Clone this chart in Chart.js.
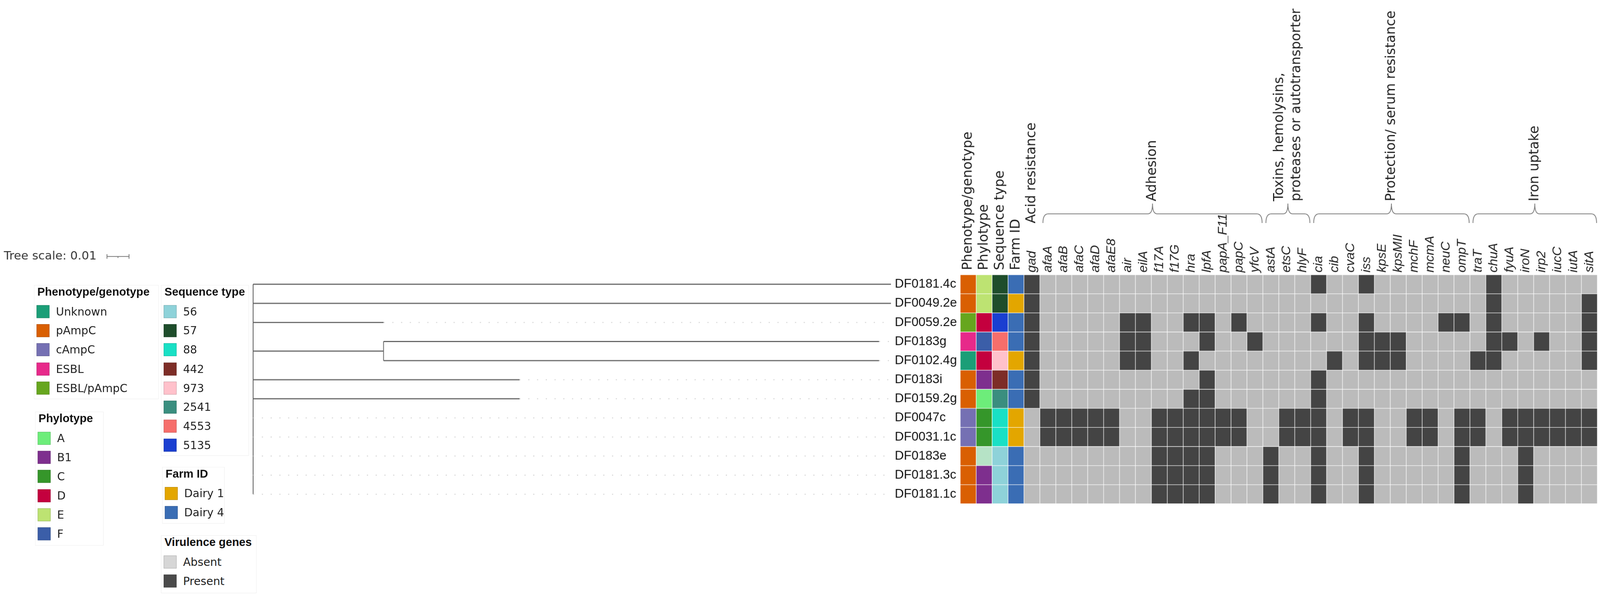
<!DOCTYPE html>
<html>
<head>
<meta charset="utf-8">
<title>Virulence gene profiles</title>
<script src="https://cdn.jsdelivr.net/npm/chart.js@4.4.1/dist/chart.umd.min.js"></script>
<style>
  html, body { margin: 0; padding: 0; background: #fff; overflow: hidden; }
  #page { position: relative; width: 4204px; height: 1562px; overflow: hidden; background: #fff; transform-origin: 0 0; }
  #page canvas { position: absolute; }
  .lg { position: absolute; border: 1px solid #ececec; box-sizing: border-box; }
  .lg .ttl { position: absolute; font: bold 30px "Liberation Sans", Arial, sans-serif; color: #111; line-height: 34px; white-space: nowrap; }
  .lg .it { position: absolute; font: 29px "DejaVu Sans", sans-serif; color: #222; line-height: 34px; white-space: nowrap; }
  .lg .sw { position: absolute; width: 34px; height: 34px; box-sizing: border-box; border: 1px solid rgba(0,0,0,.22); }
</style>
</head>
<body>
<div id="page">
  <canvas id="tree" width="2525" height="750" style="left:0;top:600px;width:2525px;height:750px"></canvas>
  <canvas id="heat" width="1704" height="1350" style="left:2500px;top:0;width:1704px;height:1350px"></canvas>
</div>
<script>
// ---- data ----
const samples = ['DF0181.4c', 'DF0049.2e', 'DF0059.2e', 'DF0183g', 'DF0102.4g', 'DF0183i',
  'DF0159.2g', 'DF0047c', 'DF0031.1c', 'DF0183e', 'DF0181.3c', 'DF0181.1c'];

// tree: distance of each tip from the root, one inner clade (DF0183g + DF0102.4g)
const tipDist = [0.289, 0.289, 0.0591, 0.2836, 0.2836, 0.1207, 0.1207, 0, 0, 0, 0, 0];
const cladeDist = 0.0591;
const cladeMembers = [3, 4];
const treeMax = 0.289;
const treeScale = 0.01;

const phenotype = ['pAmpC', 'pAmpC', 'ESBL/pAmpC', 'ESBL', 'Unknown', 'pAmpC', 'pAmpC', 'cAmpC', 'cAmpC', 'pAmpC', 'pAmpC', 'pAmpC'];
const phylotype = ['E', 'E', 'D', 'F', 'D', 'B1', 'A', 'C', 'C', 'unassigned', 'B1', 'B1'];
const seqType = ['57', '57', '5135', '4553', '973', '442', '2541', '88', '88', '56', '56', '56'];
const farm = ['Dairy 4', 'Dairy 1', 'Dairy 4', 'Dairy 4', 'Dairy 1', 'Dairy 4', 'Dairy 4', 'Dairy 1', 'Dairy 1', 'Dairy 4', 'Dairy 4', 'Dairy 4'];

const phenoKeys = ['Unknown', 'pAmpC', 'cAmpC', 'ESBL', 'ESBL/pAmpC'];
const phenoColors = ['#1b9e77', '#d95f02', '#7570b3', '#e7298a', '#66a61e'];
const phyloKeys = ['A', 'B1', 'C', 'D', 'E', 'F'];
const phyloColors = ['#6ded7a', '#7e2f8e', '#35962a', '#c4003e', '#bde372', '#3b5ea8'];
const seqKeys = ['56', '57', '88', '442', '973', '2541', '4553', '5135'];
const seqColors = ['#8ed2d9', '#1e4d2b', '#19e0c5', '#7d2d27', '#ffc1cb', '#3a8e7f', '#f66e6b', '#1a3fd1'];
const farmKeys = ['Dairy 1', 'Dairy 4'];
const farmColors = ['#e3a600', '#3a6db4'];
const geneKeys = ['Absent', 'Present'];
const geneColors = ['#bbbbbb', '#444444'];
const geneLegendColors = ['#d6d6d6', '#4a4a4a'];

const metaCols = ['Phenotype/genotype', 'Phylotype', 'Sequence type', 'Farm ID'];
const genes = ['gad',
  'afaA', 'afaB', 'afaC', 'afaD', 'afaE8', 'air', 'eilA', 'f17A', 'f17G', 'hra', 'lpfA', 'papA_F11', 'papC', 'yfcV',
  'astA', 'etsC', 'hlyF',
  'cia', 'cib', 'cvaC', 'iss', 'kpsE', 'kpsMII', 'mchF', 'mcmA', 'neuC', 'ompT',
  'traT', 'chuA', 'fyuA', 'iroN', 'irp2', 'iucC', 'iutA', 'sitA'];

// 1 = present, grouped as acid | adhesion | toxins | protection | iron
const presence = [
  '1 00000000000000 000 1001000000 01000000',
  '1 00000000000000 000 0000000000 01000001',
  '1 00000110011010 000 1001000011 01000001',
  '1 00000110001001 000 0001110000 01101001',
  '1 00000110010000 000 0101110000 11000001',
  '1 00000000001000 000 1000000000 00000000',
  '1 00000000011000 000 1000000000 00000000',
  '0 11111001111110 011 1011001101 10111111',
  '0 11111001111110 011 1011001101 10111111',
  '0 00000001111000 100 1001000001 00010000',
  '0 00000001111000 100 1001000001 00010000',
  '0 00000001111000 100 1001000001 00010000'
].map(s => s.replace(/ /g, '').split('').map(Number));

const geneGroups = [
  { name: ['Acid resistance'], from: 'gad', to: 'gad', brace: false },
  { name: ['Adhesion'], from: 'afaA', to: 'yfcV', brace: true },
  { name: ['Toxins, hemolysins,', 'proteases or autotransporter'], from: 'astA', to: 'hlyF', brace: true },
  { name: ['Protection/ serum resistance'], from: 'cia', to: 'ompT', brace: true },
  { name: ['Iron uptake'], from: 'traT', to: 'sitA', brace: true }
];

const columns = metaCols.concat(genes);

// fit the page into whatever viewport the browser gives us
const page = document.getElementById('page');
const fit = Math.min(window.innerWidth / 4204, window.innerHeight / 1562);
if (fit > 0 && fit < 1) page.style.transform = `scale(${fit})`;

const colorOf = (keys, colors, v) => {
  const i = keys.indexOf(v);
  return i < 0 ? '#b6e3c6' : colors[i];
};

function cellColor(r, j) {
  if (j === 0) return colorOf(phenoKeys, phenoColors, phenotype[r]);
  if (j === 1) return colorOf(phyloKeys, phyloColors, phylotype[r]);
  if (j === 2) return colorOf(seqKeys, seqColors, seqType[r]);
  if (j === 3) return colorOf(farmKeys, farmColors, farm[r]);
  return geneColors[presence[r][j - 4]];
}

// rotated text, reads bottom to top, starting at (x, y)
function vtext(ctx, lines, x, y, gap) {
  ctx.save();
  ctx.translate(x, y);
  ctx.rotate(-Math.PI / 2);
  ctx.textAlign = 'left';
  ctx.textBaseline = 'middle';
  lines.forEach((t, k) => ctx.fillText(t, 0, (k - (lines.length - 1) / 2) * gap));
  ctx.restore();
}

// ---- heatmap (floating bars, one dataset per sample row) ----
const headerPlugin = {
  id: 'header',
  afterDraw(chart) {
    const ctx = chart.ctx;
    const x = chart.scales.x;
    const top = chart.chartArea.top;
    const half = (x.getPixelForValue(1) - x.getPixelForValue(0)) / 2;
    ctx.save();
    ctx.fillStyle = '#222';
    columns.forEach((name, j) => {
      const isMeta = j < metaCols.length;
      ctx.font = isMeta ? '35px "DejaVu Sans"' : 'italic 34px "Liberation Sans"';
      vtext(ctx, [name], x.getPixelForValue(j), top - (isMeta ? 12 : 6), 0);
    });
    ctx.strokeStyle = '#777';
    ctx.lineWidth = 2;
    ctx.font = '35px "DejaVu Sans"';
    geneGroups.forEach(g => {
      const a = columns.indexOf(g.from), b = columns.indexOf(g.to);
      const x0 = x.getPixelForValue(a) - half + 8;
      const x1 = x.getPixelForValue(b) + half - 2;
      const xm = (x0 + x1) / 2;
      if (!g.brace) {
        vtext(ctx, g.name, x.getPixelForValue(a), top - 135, 45);
        return;
      }
      const yb = top - 136, yl = top - 160, yt = top - 187;
      ctx.beginPath();
      ctx.moveTo(x0, yb);
      ctx.quadraticCurveTo(x0, yl, x0 + 14, yl);
      ctx.lineTo(xm - 12, yl);
      ctx.quadraticCurveTo(xm, yl, xm, yt);
      ctx.quadraticCurveTo(xm, yl, xm + 12, yl);
      ctx.lineTo(x1 - 14, yl);
      ctx.quadraticCurveTo(x1, yl, x1, yb);
      ctx.stroke();
      vtext(ctx, g.name, xm, top - 193, 45);
    });
    ctx.restore();
  }
};

new Chart(document.getElementById('heat'), {
  type: 'bar',
  data: {
    labels: columns,
    datasets: samples.map((s, r) => ({
      label: s,
      data: columns.map(() => [r, r + 1]),
      backgroundColor: columns.map((c, j) => cellColor(r, j)),
      borderColor: 'rgba(255,255,255,0.16)',
      borderWidth: 1,
      borderSkipped: false,
      grouped: false,
      categoryPercentage: 1,
      barPercentage: 1
    }))
  },
  options: {
    responsive: false,
    devicePixelRatio: 1,
    animation: false,
    events: [],
    layout: { padding: { left: 23, right: 7, top: 722, bottom: 26 } },
    scales: {
      x: { type: 'category', display: false },
      y: { type: 'linear', min: 0, max: samples.length, reverse: true, display: false }
    },
    plugins: { legend: { display: false }, tooltip: { enabled: false } }
  },
  plugins: [headerPlugin]
});

// ---- tree (line segments on a distance scale) ----
const seg = (x0, y0, x1, y1, extra) => Object.assign({
  data: [{ x: x0, y: y0 }, { x: x1, y: y1 }],
  showLine: true, pointRadius: 0, borderColor: '#666', borderWidth: 3, clip: false
}, extra || {});

const treeSets = [];
samples.forEach((s, i) => {
  const start = cladeMembers.includes(i) ? cladeDist : 0;
  if (tipDist[i] > start) treeSets.push(seg(start, i, tipDist[i], i));
  if (tipDist[i] < treeMax) {
    treeSets.push(seg(tipDist[i], i, treeMax, i, { borderColor: '#d4d4d4', borderWidth: 2.5, borderDash: [3, 20] }));
  }
});
const cladeY = cladeMembers.reduce((a, b) => a + b, 0) / cladeMembers.length;
treeSets.push(seg(0, cladeY, cladeDist, cladeY));
treeSets.push(seg(cladeDist, cladeMembers[0], cladeDist, cladeMembers[cladeMembers.length - 1], { borderWidth: 2 }));
treeSets.push(seg(0, 0, 0, samples.length - 1, { borderColor: '#555', borderWidth: 2 }));

const treeLabels = {
  id: 'treeLabels',
  afterDraw(chart) {
    const ctx = chart.ctx, x = chart.scales.x, y = chart.scales.y;
    ctx.save();
    ctx.fillStyle = '#111';
    ctx.font = '33px "Liberation Sans"';
    ctx.textBaseline = 'middle';
    ctx.textAlign = 'left';
    samples.forEach((s, i) => ctx.fillText(s, x.getPixelForValue(treeMax) + 10, y.getPixelForValue(i)));

    // tree scale bar
    const sy = 74, sx = 281;
    const len = x.getPixelForValue(treeScale) - x.getPixelForValue(0);
    ctx.fillStyle = '#333';
    ctx.font = '31px "DejaVu Sans"';
    ctx.fillText('Tree scale: ' + treeScale, 10, sy);
    ctx.strokeStyle = '#777';
    ctx.lineWidth = 2;
    ctx.beginPath();
    ctx.moveTo(sx, sy); ctx.lineTo(sx + len, sy);
    ctx.moveTo(sx, sy - 6); ctx.lineTo(sx, sy + 6);
    ctx.moveTo(sx + len, sy - 6); ctx.lineTo(sx + len, sy + 6);
    ctx.moveTo(sx + len / 2, sy); ctx.lineTo(sx + len / 2, sy + 4);
    ctx.stroke();
    ctx.restore();
  }
};

new Chart(document.getElementById('tree'), {
  type: 'scatter',
  data: { datasets: treeSets },
  options: {
    responsive: false,
    devicePixelRatio: 1,
    animation: false,
    events: [],
    layout: { padding: { left: 665, right: 184, top: 122, bottom: 26 } },
    scales: {
      x: { type: 'linear', min: 0, max: treeMax, display: false },
      y: { type: 'linear', min: -0.5, max: samples.length - 0.5, reverse: true, display: false }
    },
    plugins: { legend: { display: false }, tooltip: { enabled: false } }
  },
  plugins: [treeLabels]
});

// ---- legends (html boxes) ----
const legends = [
  { title: 'Phenotype/genotype', keys: phenoKeys, colors: phenoColors, left: 89, top: 749, w: 328, h: 300 },
  { title: 'Phylotype', keys: phyloKeys, colors: phyloColors, left: 92, top: 1082, w: 180, h: 352 },
  { title: 'Sequence type', keys: seqKeys, colors: seqColors, left: 423, top: 749, w: 231, h: 449 },
  { title: 'Farm ID', keys: farmKeys, colors: farmColors, left: 426, top: 1227, w: 164, h: 149 },
  { title: 'Virulence genes', keys: geneKeys, colors: geneLegendColors, left: 423, top: 1407, w: 251, h: 152 }
];
legends.forEach(l => {
  const box = document.createElement('div');
  box.className = 'lg';
  box.style.cssText = `left:${l.left}px;top:${l.top}px;width:${l.w}px;height:${l.h}px`;
  let html = `<div class="ttl" style="left:8px;top:0px">${l.title}</div>`;
  l.keys.forEach((k, i) => {
    const cy = 69 + i * 50.2;
    html += `<div class="sw" style="left:6px;top:${cy - 17}px;background:${l.colors[i]}"></div>`;
    html += `<div class="it" style="left:57px;top:${cy - 17}px">${k}</div>`;
  });
  box.innerHTML = html;
  page.appendChild(box);
});
</script>
</body>
</html>
